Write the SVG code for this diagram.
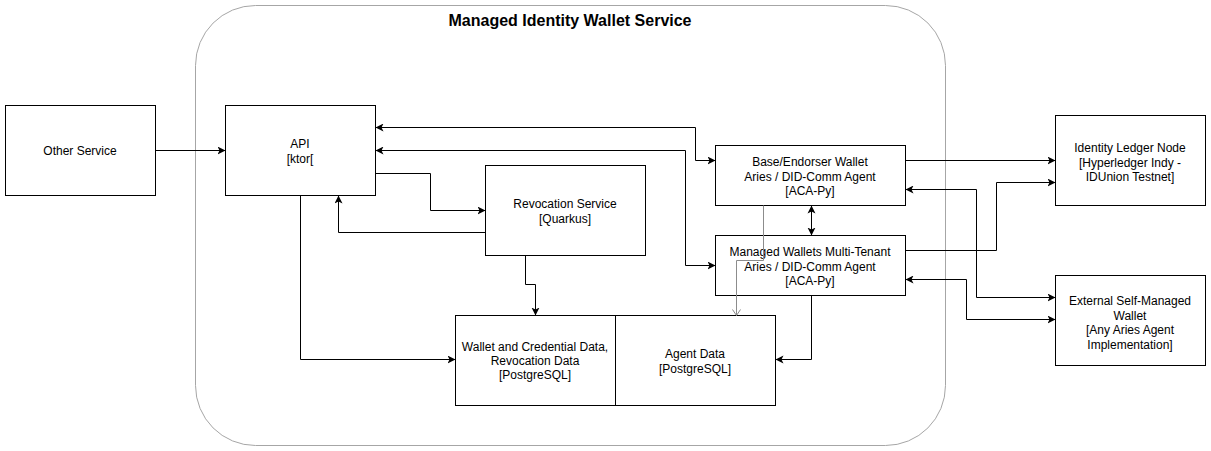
<svg xmlns="http://www.w3.org/2000/svg" width="1211" height="451" viewBox="0 0 1211 451">
<style>
.box{fill:#fff;stroke:#000;stroke-width:1}
.t{font-family:"Liberation Sans",Arial,sans-serif;font-size:12px;fill:#000;text-anchor:middle}
.title{font-family:"Liberation Sans",Arial,sans-serif;font-size:16px;font-weight:bold;fill:#000;text-anchor:middle}
.c{fill:none;stroke:#000;stroke-width:1}
.g{fill:none;stroke:#8c8c8c;stroke-width:1}
</style>
<defs>
<marker id="a" markerWidth="10" markerHeight="10" refX="8" refY="4" orient="auto" markerUnits="userSpaceOnUse">
<path d="M0,0 L8,4 L0,8 L2,4 z" fill="#000"/>
</marker>
<marker id="as" markerWidth="10" markerHeight="10" refX="0" refY="4" orient="auto" markerUnits="userSpaceOnUse">
<path d="M8,0 L0,4 L8,8 L6,4 z" fill="#000"/>
</marker>
</defs>
<g id="container">
<rect x="195.5" y="5.5" width="750" height="440" rx="60" ry="60" fill="#fff" stroke="#a6a6a6" stroke-width="1"/>
<text class="title" x="570" y="26">Managed Identity Wallet Service</text>
</g>
<g id="other-service">
<rect class="box" x="5.5" y="105.5" width="150" height="90"/>
<text class="t" x="80" y="155">Other Service</text>
</g>
<g id="api">
<rect class="box" x="225.5" y="105.5" width="150" height="90"/>
<text class="t" x="300" y="148">API</text>
<text class="t" x="300" y="163">[ktor[</text>
</g>
<g id="revocation-service">
<rect class="box" x="485.5" y="165.5" width="160" height="90"/>
<text class="t" x="565" y="208">Revocation Service</text>
<text class="t" x="565" y="223">[Quarkus]</text>
</g>
<g id="base-wallet">
<rect class="box" x="715.5" y="145.5" width="190" height="60"/>
<text class="t" x="810" y="166">Base/Endorser Wallet</text>
<text class="t" x="810" y="181">Aries / DID-Comm Agent</text>
<text class="t" x="810" y="195">[ACA-Py]</text>
</g>
<g id="managed-wallets">
<rect class="box" x="715.5" y="235.5" width="190" height="60"/>
<text class="t" x="810" y="256">Managed Wallets Multi-Tenant</text>
<text class="t" x="810" y="271">Aries / DID-Comm Agent</text>
<text class="t" x="810" y="285">[ACA-Py]</text>
</g>
<g id="wallet-data">
<rect class="box" x="455.5" y="315.5" width="160" height="90"/>
<text class="t" x="535" y="351">Wallet and Credential Data,</text>
<text class="t" x="535" y="365">Revocation Data</text>
<text class="t" x="535" y="379">[PostgreSQL]</text>
</g>
<g id="agent-data">
<rect class="box" x="615.5" y="315.5" width="160" height="90"/>
<text class="t" x="695" y="358">Agent Data</text>
<text class="t" x="695" y="373">[PostgreSQL]</text>
</g>
<g id="identity-ledger">
<rect class="box" x="1055.5" y="115.5" width="150" height="90"/>
<text class="t" x="1130" y="152">Identity Ledger Node</text>
<text class="t" x="1130" y="167">[Hyperledger Indy -</text>
<text class="t" x="1130" y="181">IDUnion Testnet]</text>
</g>
<g id="external-wallet">
<rect class="box" x="1055.5" y="275.5" width="150" height="90"/>
<text class="t" x="1130" y="305">External Self-Managed</text>
<text class="t" x="1130" y="320">Wallet</text>
<text class="t" x="1130" y="334">[Any Aries Agent</text>
<text class="t" x="1130" y="349">Implementation]</text>
</g>
<g id="connectors">
<path class="c" d="M155.5,150.5 L225.5,150.5" marker-end="url(#a)"/>
<path class="c" d="M375.5,127.5 L695.5,127.5 L695.5,160.5 L715.5,160.5" marker-start="url(#as)" marker-end="url(#a)"/>
<path class="c" d="M375.5,150.5 L685.5,150.5 L685.5,265.5 L715.5,265.5" marker-start="url(#as)" marker-end="url(#a)"/>
<path class="c" d="M375.5,173.5 L430.5,173.5 L430.5,210.5 L485.5,210.5" marker-end="url(#a)"/>
<path class="c" d="M485.5,232.5 L338.5,232.5 L338.5,195.5" marker-end="url(#a)"/>
<path class="c" d="M300.5,195.5 L300.5,359.5 L455.5,359.5" marker-end="url(#a)"/>
<path class="c" d="M525.5,255.5 L525.5,284.5 L535.5,284.5 L535.5,315.5" marker-end="url(#a)"/>
<path class="c" d="M811.5,205.5 L811.5,235.5" marker-start="url(#as)" marker-end="url(#a)"/>
<path class="g" d="M763.5,205.5 L763.5,260.5 L736.5,260.5 L736.5,315.5"/>
<path d="M732.5,309.5 L736.5,315.5 L740.5,309.5" fill="none" stroke="#8c8c8c" stroke-width="1"/>
<path class="c" d="M811.5,295.5 L811.5,359.5 L775.5,359.5" marker-end="url(#a)"/>
<path class="c" d="M905.5,160.5 L1055.5,160.5" marker-end="url(#a)"/>
<path class="c" d="M905.5,250.5 L996.5,250.5 L996.5,182.5 L1055.5,182.5" marker-end="url(#a)"/>
<path class="c" d="M905.5,189.5 L976.5,189.5 L976.5,297.5 L1055.5,297.5" marker-start="url(#as)" marker-end="url(#a)"/>
<path class="c" d="M905.5,279.5 L966.5,279.5 L966.5,319.5 L1055.5,319.5" marker-start="url(#as)" marker-end="url(#a)"/>
</g>
</svg>
